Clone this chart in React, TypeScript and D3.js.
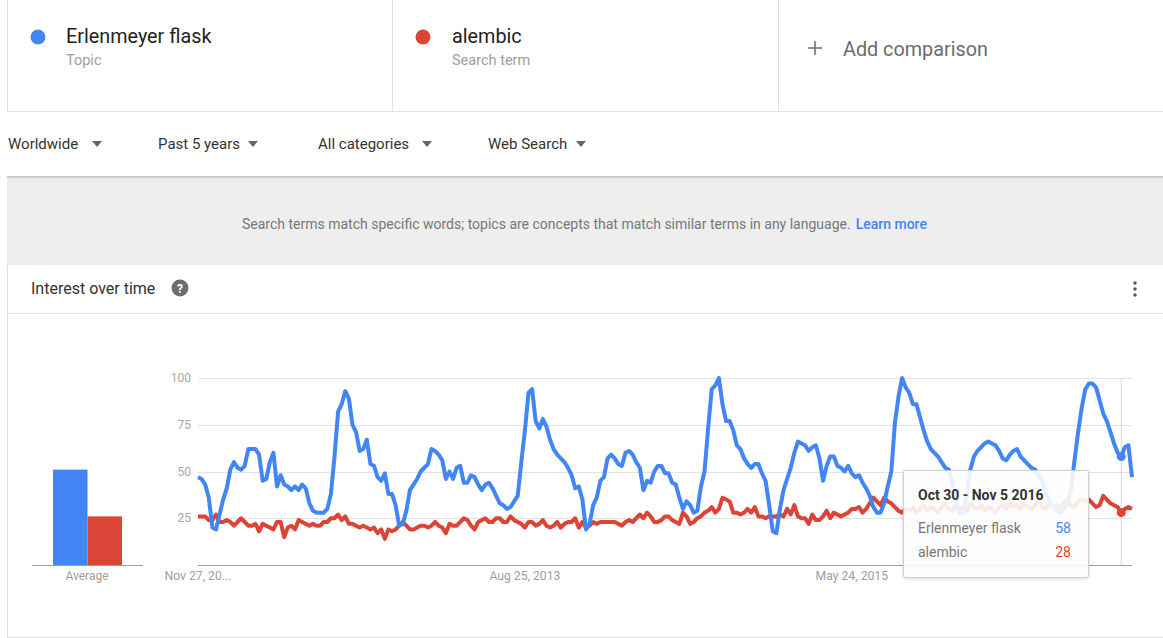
import React from "react";
import * as d3 from "d3";

const seriesNames = ["Erlenmeyer flask", "alembic"];
const seriesKinds = ["Topic", "Search term"];
const filterLabels = ["Worldwide", "Past 5 years", "All categories", "Web Search"];
const yTicks = [25, 50, 75, 100];
const xTickDates = ["2011-11-27", "2013-08-25", "2015-05-24"];
const xTickLabels = ["Nov 27, 20...", "Aug 25, 2013", "May 24, 2015"];
const startDate = "2011-11-27";
const averages = [51, 26];
const hoverIndex = 257;
const hoverLabel = "Oct 30 - Nov 5 2016";

const flask = [
  47, 46, 43, 36, 20, 19, 27, 35, 41, 51,
  55, 52, 51, 53, 62, 62, 62, 59, 45, 46,
  55, 60, 42, 48, 43, 42, 40, 42, 40, 43,
  41, 33, 29, 28, 28, 28, 30, 38, 58, 82,
  86, 93, 89, 75, 71, 61, 62, 67, 54, 53,
  47, 45, 49, 38, 38, 32, 21, 22, 29, 40,
  43, 46, 50, 52, 54, 62, 61, 59, 56, 46,
  50, 46, 52, 53, 44, 44, 48, 47, 43, 40,
  43, 44, 41, 37, 33, 32, 30, 31, 34, 37,
  55, 72, 92, 94, 77, 73, 78, 74, 67, 62,
  59, 57, 55, 52, 48, 41, 42, 35, 19, 22,
  32, 36, 45, 47, 57, 59, 57, 54, 53, 60,
  61, 59, 55, 52, 40, 45, 44, 50, 53, 53,
  49, 49, 44, 43, 36, 30, 34, 32, 28, 29,
  42, 50, 73, 94, 96, 100, 86, 77, 77, 72,
  64, 62, 57, 54, 52, 54, 54, 49, 45, 32,
  18, 17, 30, 40, 46, 52, 60, 66, 65, 64,
  61, 63, 64, 57, 45, 53, 58, 58, 53, 52,
  50, 53, 49, 47, 48, 44, 41, 37, 31, 28,
  28, 33, 42, 50, 76, 90, 100, 95, 92, 86,
  86, 79, 72, 66, 62, 60, 58, 55, 52, 51,
  44, 34, 28, 28, 37, 51, 58, 61, 63, 65,
  66, 65, 64, 61, 57, 56, 59, 61, 62, 58,
  56, 54, 52, 51, 48, 45, 39, 34, 31, 29,
  28, 30, 33, 40, 56, 71, 84, 94, 97, 97,
  95, 88, 81, 77, 71, 65, 60, 58, 63, 64,
  47,
];

const alembic = [
  26, 26, 26, 24, 24, 27, 23, 23, 24, 23,
  21, 23, 25, 23, 21, 21, 22, 18, 22, 21,
  20, 19, 23, 23, 15, 20, 21, 19, 24, 23,
  22, 21, 22, 21, 21, 23, 23, 25, 25, 27,
  24, 26, 22, 22, 21, 20, 21, 20, 19, 20,
  17, 19, 14, 19, 18, 19, 21, 23, 21, 19,
  19, 20, 21, 21, 20, 21, 23, 21, 20, 17,
  22, 21, 21, 23, 25, 24, 21, 19, 23, 24,
  25, 23, 23, 25, 25, 23, 23, 26, 24, 23,
  22, 20, 23, 23, 21, 22, 24, 21, 20, 21,
  23, 20, 22, 23, 23, 25, 20, 23, 20, 21,
  23, 22, 23, 23, 23, 23, 23, 22, 21, 23,
  24, 23, 25, 27, 25, 28, 26, 23, 23, 24,
  26, 26, 24, 23, 22, 28, 26, 22, 23, 25,
  26, 28, 29, 31, 28, 30, 36, 35, 34, 28,
  28, 27, 28, 30, 28, 31, 26, 26, 25, 26,
  26, 26, 27, 26, 30, 27, 32, 26, 25, 25,
  22, 27, 24, 24, 26, 29, 25, 28, 27, 26,
  27, 28, 30, 30, 31, 28, 30, 33, 36, 34,
  32, 36, 34, 33, 31, 29, 28, 30, 29, 31,
  28, 30, 32, 29, 31, 30, 28, 31, 33, 30,
  29, 32, 30, 31, 29, 33, 31, 30, 32, 29,
  31, 30, 28, 31, 32, 30, 33, 31, 32, 30,
  33, 31, 30, 32, 34, 31, 30, 33, 31, 32,
  30, 33, 35, 32, 31, 34, 35, 34, 35, 33,
  31, 32, 37, 35, 33, 32, 31, 28, 30, 31,
  30,
];

const colors = ["#4285f4", "#db4437"];
const FONT = "Roboto, 'Noto Sans', Arial, sans-serif";

export default function App() {
  const W = 1163;
  const H = 638;
  const start = new Date(startDate + "T00:00:00");
  const dates = flask.map((_, i) => d3.timeWeek.offset(start, i));
  const x = d3
    .scaleTime()
    .domain([dates[0], dates[dates.length - 1]])
    .range([198, 1132]);
  const y = d3.scaleLinear().domain([0, 100]).range([565, 378]);
  const line = d3
    .line<number>()
    .x((_, i) => x(dates[i]))
    .y((d) => y(d))
    .curve(d3.curveLinear);

  const avgX = d3.scaleBand<number>().domain([0, 1]).range([53, 122]).padding(0);

  const hx = x(dates[hoverIndex]);

  const tip = { x: 903, y: 470, w: 185, h: 107 };

  return (
    <div style={{ position: "absolute", left: 0, top: 0, width: W, height: H, background: "#fff" }}>
      <svg width={W} height={H} style={{ display: "block", fontFamily: FONT }}>
        <defs>
          <filter id="tipShadow" x="-10%" y="-10%" width="130%" height="140%">
            <feDropShadow dx="0" dy="1" stdDeviation="1.5" floodColor="#000" floodOpacity="0.18" />
          </filter>
          <linearGradient id="sepShadow" x1="0" y1="0" x2="0" y2="1">
            <stop offset="0" stopColor="#bdbdbd" />
            <stop offset="1" stopColor="#eeeeee" />
          </linearGradient>
        </defs>
        <rect x={0} y={0} width={W} height={H} fill="#fff" />

        {/* top comparison cards */}
        <line x1={7.5} y1={0} x2={7.5} y2={111} stroke="#e0e0e0" />
        <line x1={392.5} y1={0} x2={392.5} y2={111} stroke="#e0e0e0" />
        <line x1={778.5} y1={0} x2={778.5} y2={111} stroke="#e0e0e0" />
        <line x1={7} y1={111.5} x2={W} y2={111.5} stroke="#e0e0e0" />
        {seriesNames.map((name, i) => {
          const bx = i === 0 ? 38 : 423;
          const tx = i === 0 ? 66 : 452;
          return (
            <g key={name}>
              <circle cx={bx} cy={37} r={7.5} fill={colors[i]} />
              <text x={tx} y={43} fontSize={19.8} fill="#222">
                {name}
              </text>
              <text x={tx} y={65} fontSize={14.5} fill="#9e9e9e">
                {seriesKinds[i]}
              </text>
            </g>
          );
        })}
        <g stroke="#757575" strokeWidth={1.6}>
          <line x1={808} y1={48} x2={822} y2={48} />
          <line x1={815} y1={41} x2={815} y2={55} />
        </g>
        <text x={843} y={56} fontSize={19.8} fill="#6b6b6b">
          Add comparison
        </text>

        {/* filters */}
        {filterLabels.map((lab, i) => {
          const fx = [8, 158, 318, 488][i];
          const ax = [97, 253, 427, 581][i];
          return (
            <g key={lab}>
              <text x={fx} y={149} fontSize={15} fill="#333">
                {lab}
              </text>
              <path d={`M${ax - 5},${141} L${ax + 5},${141} L${ax},${147} Z`} fill="#666" />
            </g>
          );
        })}

        {/* info band */}
        <rect x={7} y={178} width={W - 7} height={87} fill="#eeeeee" />
        <rect x={7} y={176} width={W - 7} height={3} fill="url(#sepShadow)" />
        <text x={242} y={229} fontSize={14} fill="#777">
          Search terms match specific words; topics are concepts that match similar terms in any language.
          <tspan dx={5} fill="#4285f4" fontWeight={500}>
            Learn more
          </tspan>
        </text>

        {/* interest card */}
        <line x1={7.5} y1={265} x2={7.5} y2={637} stroke="#e0e0e0" />
        <line x1={7} y1={637.5} x2={W} y2={637.5} stroke="#e0e0e0" />
        <text x={31} y={294} fontSize={16} fill="#333">
          Interest over time
        </text>
        <circle cx={180} cy={288} r={8.5} fill="#6d6d6d" />
        <text x={180} y={292.5} fontSize={12} fontWeight={700} fill="#fff" textAnchor="middle">
          ?
        </text>
        {[283, 289, 295].map((cy) => (
          <circle key={cy} cx={1135} cy={cy} r={1.7} fill="#555" />
        ))}
        <line x1={7} y1={313.5} x2={W} y2={313.5} stroke="#e6e6e6" />

        {/* average bars */}
        {averages.map((v, i) => (
          <rect
            key={i}
            x={avgX(i)}
            y={y(v)}
            width={avgX.bandwidth()}
            height={y(0) - y(v)}
            fill={colors[i]}
          />
        ))}
        <line x1={32} y1={565.5} x2={143} y2={565.5} stroke="#9e9e9e" />
        <text x={87} y={579.5} fontSize={12} fill="#9e9e9e" textAnchor="middle">
          Average
        </text>

        {/* grid */}
        {yTicks.map((t) => (
          <g key={t}>
            <line x1={198} x2={1132} y1={Math.round(y(t)) + 0.5} y2={Math.round(y(t)) + 0.5} stroke="#e3e3e3" />
            <text x={191} y={y(t) + 4} fontSize={12} fill="#a6a6a6" textAnchor="end">
              {t}
            </text>
          </g>
        ))}
        <line x1={198} x2={1132} y1={565.5} y2={565.5} stroke="#9e9e9e" />
        {xTickDates.map((d, i) => (
          <text
            key={d}
            x={x(new Date(d + "T00:00:00"))}
            y={579.5}
            fontSize={12.2}
            fill="#9e9e9e"
            textAnchor="middle"
          >
            {xTickLabels[i]}
          </text>
        ))}

        {/* hover line */}
        <line x1={hx} x2={hx} y1={378} y2={565} stroke="#d6d6d6" />

        {/* series */}
        <path d={line(alembic) || ""} fill="none" stroke={colors[1]} strokeWidth={4} strokeLinejoin="round" />
        <path d={line(flask) || ""} fill="none" stroke={colors[0]} strokeWidth={4} strokeLinejoin="round" />
        <circle cx={hx} cy={y(flask[hoverIndex])} r={4.5} fill={colors[0]} />
        <circle cx={hx} cy={y(alembic[hoverIndex])} r={4.5} fill={colors[1]} />

        {/* tooltip */}
        <rect
          x={tip.x + 0.5}
          y={tip.y + 0.5}
          width={tip.w}
          height={tip.h}
          rx={2}
          fill="#fff"
          fillOpacity={0.88}
          stroke="#cfcfcf"
          filter="url(#tipShadow)"
        />
        <text x={918} y={500} fontSize={14} fontWeight={700} fill="#333">
          {hoverLabel}
        </text>
        {seriesNames.map((name, i) => (
          <g key={name}>
            <text x={918} y={533 + i * 24} fontSize={14} fill="#777">
              {name}
            </text>
            <text x={1071} y={533 + i * 24} fontSize={14} fill={colors[i]} textAnchor="end">
              {i === 0 ? flask[hoverIndex] : alembic[hoverIndex]}
            </text>
          </g>
        ))}
      </svg>
    </div>
  );
}
